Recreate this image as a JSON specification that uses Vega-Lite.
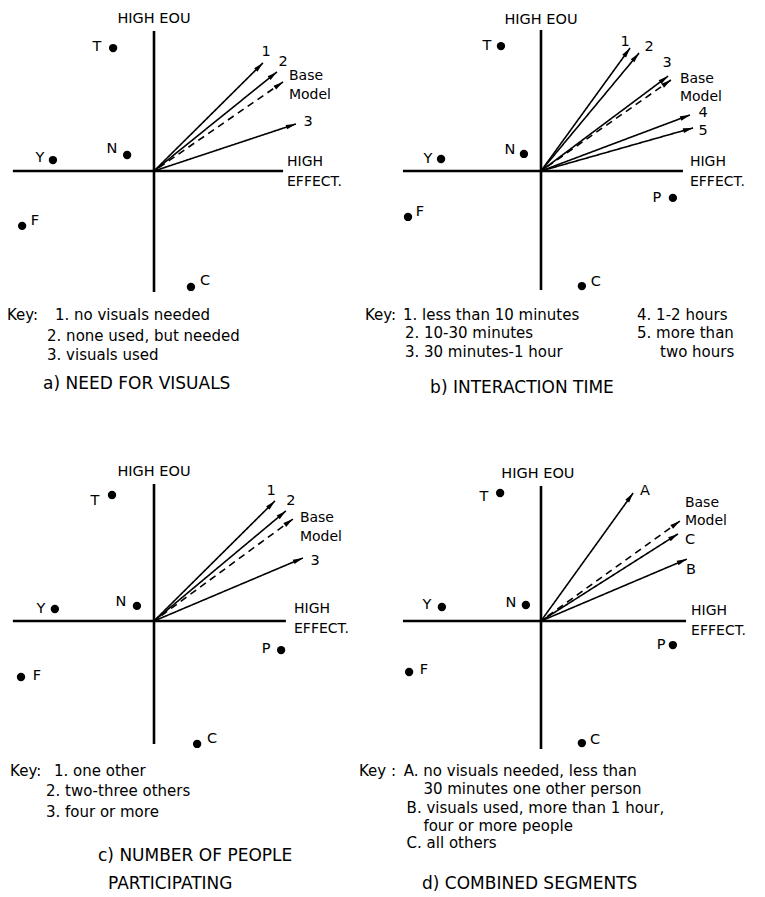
{
  "$schema": "https://vega.github.io/schema/vega-lite/v6.json",
  "background": "white",
  "padding": 0,
  "spacing": 3,
  "datasets": {
    "map": [
      {"panel": "a", "kind": "axis", "x": -5.04, "y": 0, "x2": 4.61, "y2": 0},
      {"panel": "a", "kind": "axis", "x": 0, "y": 5.0, "x2": 0, "y2": -4.32},
      {"panel": "a", "kind": "dot", "label": "T", "x": -1.46, "y": 4.39},
      {"panel": "a", "kind": "dot", "label": "N", "x": -0.96, "y": 0.57},
      {"panel": "a", "kind": "dot", "label": "Y", "x": -3.61, "y": 0.39},
      {"panel": "a", "kind": "dot", "label": "F", "x": -4.71, "y": -1.96},
      {"panel": "a", "kind": "dot", "label": "C", "x": 1.32, "y": -4.14},
      {"panel": "a", "kind": "arrow", "label": "1", "x": 3.89, "y": 3.86},
      {"panel": "a", "kind": "arrow", "label": "2", "x": 4.39, "y": 3.54},
      {"panel": "a", "kind": "arrow", "label": "Base Model", "x": 4.61, "y": 3.18},
      {"panel": "a", "kind": "arrow", "label": "3", "x": 5.07, "y": 1.68},
      {"panel": "a", "kind": "tag", "label": "T", "x": -2.04, "y": 4.43},
      {"panel": "a", "kind": "tag", "label": "N", "x": -1.5, "y": 0.79},
      {"panel": "a", "kind": "tag", "label": "Y", "x": -4.07, "y": 0.46},
      {"panel": "a", "kind": "tag", "label": "F", "x": -4.25, "y": -1.79},
      {"panel": "a", "kind": "tag", "label": "C", "x": 1.82, "y": -3.93},
      {"panel": "a", "kind": "tag", "label": "1", "x": 4.0, "y": 4.25},
      {"panel": "a", "kind": "tag", "label": "2", "x": 4.61, "y": 3.89},
      {"panel": "a", "kind": "tag", "label": "3", "x": 5.5, "y": 1.75},
      {"panel": "a", "kind": "tag", "label": "HIGH EOU", "x": 0, "y": 5.43},
      {"panel": "a", "kind": "note", "label": "Base", "x": 4.82, "y": 3.38},
      {"panel": "a", "kind": "note", "label": "Model", "x": 4.82, "y": 2.7},
      {"panel": "a", "kind": "note", "label": "HIGH", "x": 4.75, "y": 0.32},
      {"panel": "a", "kind": "note", "label": "EFFECT.", "x": 4.75, "y": -0.39},
      {"panel": "a", "kind": "key", "label": "Key:", "x": -5.25, "y": -5.14},
      {"panel": "a", "kind": "key", "label": "1. no visuals needed", "x": -3.54, "y": -5.14},
      {"panel": "a", "kind": "key", "label": "2. none used, but needed", "x": -3.82, "y": -5.89},
      {"panel": "a", "kind": "key", "label": "3. visuals used", "x": -3.82, "y": -6.57},
      {"panel": "a", "kind": "caption", "label": "a) NEED FOR VISUALS", "x": -3.96, "y": -7.61},

      {"panel": "b", "kind": "axis", "x": -4.93, "y": 0, "x2": 5.07, "y2": 0},
      {"panel": "b", "kind": "axis", "x": 0, "y": 5.04, "x2": 0, "y2": -4.25},
      {"panel": "b", "kind": "dot", "label": "T", "x": -1.43, "y": 4.46},
      {"panel": "b", "kind": "dot", "label": "N", "x": -0.61, "y": 0.61},
      {"panel": "b", "kind": "dot", "label": "Y", "x": -3.57, "y": 0.43},
      {"panel": "b", "kind": "dot", "label": "F", "x": -4.75, "y": -1.64},
      {"panel": "b", "kind": "dot", "label": "P", "x": 4.71, "y": -0.96},
      {"panel": "b", "kind": "dot", "label": "C", "x": 1.46, "y": -4.11},
      {"panel": "b", "kind": "arrow", "label": "1", "x": 3.18, "y": 4.39},
      {"panel": "b", "kind": "arrow", "label": "2", "x": 3.5, "y": 4.21},
      {"panel": "b", "kind": "arrow", "label": "3", "x": 4.54, "y": 3.39},
      {"panel": "b", "kind": "arrow", "label": "Base Model", "x": 4.64, "y": 3.25},
      {"panel": "b", "kind": "arrow", "label": "4", "x": 5.32, "y": 2.0},
      {"panel": "b", "kind": "arrow", "label": "5", "x": 5.43, "y": 1.54},
      {"panel": "b", "kind": "tag", "label": "T", "x": -1.93, "y": 4.46},
      {"panel": "b", "kind": "tag", "label": "N", "x": -1.11, "y": 0.75},
      {"panel": "b", "kind": "tag", "label": "Y", "x": -4.04, "y": 0.43},
      {"panel": "b", "kind": "tag", "label": "F", "x": -4.32, "y": -1.46},
      {"panel": "b", "kind": "tag", "label": "P", "x": 4.14, "y": -0.96},
      {"panel": "b", "kind": "tag", "label": "C", "x": 1.96, "y": -3.96},
      {"panel": "b", "kind": "tag", "label": "1", "x": 3.0, "y": 4.61},
      {"panel": "b", "kind": "tag", "label": "2", "x": 3.86, "y": 4.43},
      {"panel": "b", "kind": "tag", "label": "3", "x": 4.5, "y": 3.86},
      {"panel": "b", "kind": "tag", "label": "4", "x": 5.79, "y": 2.07},
      {"panel": "b", "kind": "tag", "label": "5", "x": 5.79, "y": 1.43},
      {"panel": "b", "kind": "tag", "label": "HIGH EOU", "x": 0, "y": 5.39},
      {"panel": "b", "kind": "note", "label": "Base", "x": 4.96, "y": 3.29},
      {"panel": "b", "kind": "note", "label": "Model", "x": 4.96, "y": 2.65},
      {"panel": "b", "kind": "note", "label": "HIGH", "x": 5.32, "y": 0.32},
      {"panel": "b", "kind": "note", "label": "EFFECT.", "x": 5.32, "y": -0.39},
      {"panel": "b", "kind": "key", "label": "Key:", "x": -6.29, "y": -5.14},
      {"panel": "b", "kind": "key", "label": "1. less than 10 minutes", "x": -4.93, "y": -5.14},
      {"panel": "b", "kind": "key", "label": "2. 10-30 minutes", "x": -4.86, "y": -5.79},
      {"panel": "b", "kind": "key", "label": "3. 30 minutes-1 hour", "x": -4.86, "y": -6.46},
      {"panel": "b", "kind": "key", "label": "4. 1-2 hours", "x": 3.43, "y": -5.14},
      {"panel": "b", "kind": "key", "label": "5. more than", "x": 3.43, "y": -5.79},
      {"panel": "b", "kind": "key", "label": "two hours", "x": 4.25, "y": -6.46},
      {"panel": "b", "kind": "caption", "label": "b) INTERACTION TIME", "x": -3.96, "y": -7.75},

      {"panel": "c", "kind": "axis", "x": -5.04, "y": 0, "x2": 4.71, "y2": 0},
      {"panel": "c", "kind": "axis", "x": 0, "y": 4.89, "x2": 0, "y2": -4.39},
      {"panel": "c", "kind": "dot", "label": "T", "x": -1.5, "y": 4.5},
      {"panel": "c", "kind": "dot", "label": "N", "x": -0.61, "y": 0.54},
      {"panel": "c", "kind": "dot", "label": "Y", "x": -3.54, "y": 0.43},
      {"panel": "c", "kind": "dot", "label": "F", "x": -4.75, "y": -2.0},
      {"panel": "c", "kind": "dot", "label": "P", "x": 4.54, "y": -1.04},
      {"panel": "c", "kind": "dot", "label": "C", "x": 1.54, "y": -4.39},
      {"panel": "c", "kind": "arrow", "label": "1", "x": 4.32, "y": 4.29},
      {"panel": "c", "kind": "arrow", "label": "2", "x": 4.71, "y": 3.93},
      {"panel": "c", "kind": "arrow", "label": "Base Model", "x": 4.96, "y": 3.64},
      {"panel": "c", "kind": "arrow", "label": "3", "x": 5.32, "y": 2.25},
      {"panel": "c", "kind": "tag", "label": "T", "x": -2.11, "y": 4.29},
      {"panel": "c", "kind": "tag", "label": "N", "x": -1.18, "y": 0.68},
      {"panel": "c", "kind": "tag", "label": "Y", "x": -4.04, "y": 0.43},
      {"panel": "c", "kind": "tag", "label": "F", "x": -4.18, "y": -1.96},
      {"panel": "c", "kind": "tag", "label": "P", "x": 4.0, "y": -1.0},
      {"panel": "c", "kind": "tag", "label": "C", "x": 2.07, "y": -4.21},
      {"panel": "c", "kind": "tag", "label": "1", "x": 4.18, "y": 4.64},
      {"panel": "c", "kind": "tag", "label": "2", "x": 4.89, "y": 4.29},
      {"panel": "c", "kind": "tag", "label": "3", "x": 5.75, "y": 2.14},
      {"panel": "c", "kind": "tag", "label": "HIGH EOU", "x": 0, "y": 5.32},
      {"panel": "c", "kind": "note", "label": "Base", "x": 5.21, "y": 3.68},
      {"panel": "c", "kind": "note", "label": "Model", "x": 5.21, "y": 3.0},
      {"panel": "c", "kind": "note", "label": "HIGH", "x": 5.0, "y": 0.43},
      {"panel": "c", "kind": "note", "label": "EFFECT.", "x": 5.0, "y": -0.29},
      {"panel": "c", "kind": "key", "label": "Key:", "x": -5.14, "y": -5.36},
      {"panel": "c", "kind": "key", "label": "1. one other", "x": -3.57, "y": -5.36},
      {"panel": "c", "kind": "key", "label": "2. two-three others", "x": -3.86, "y": -6.07},
      {"panel": "c", "kind": "key", "label": "3. four or more", "x": -3.86, "y": -6.82},
      {"panel": "c", "kind": "caption", "label": "c) NUMBER OF PEOPLE", "x": -2.0, "y": -8.39},
      {"panel": "c", "kind": "caption", "label": "PARTICIPATING", "x": -1.64, "y": -9.39},

      {"panel": "d", "kind": "axis", "x": -4.93, "y": 0, "x2": 5.18, "y2": 0},
      {"panel": "d", "kind": "axis", "x": 0, "y": 4.82, "x2": 0, "y2": -4.57},
      {"panel": "d", "kind": "dot", "label": "T", "x": -1.46, "y": 4.57},
      {"panel": "d", "kind": "dot", "label": "N", "x": -0.54, "y": 0.57},
      {"panel": "d", "kind": "dot", "label": "Y", "x": -3.54, "y": 0.5},
      {"panel": "d", "kind": "dot", "label": "F", "x": -4.71, "y": -1.82},
      {"panel": "d", "kind": "dot", "label": "P", "x": 4.71, "y": -0.86},
      {"panel": "d", "kind": "dot", "label": "C", "x": 1.46, "y": -4.36},
      {"panel": "d", "kind": "arrow", "label": "A", "x": 3.29, "y": 4.57},
      {"panel": "d", "kind": "arrow", "label": "Base Model", "x": 4.96, "y": 3.57},
      {"panel": "d", "kind": "arrow", "label": "C", "x": 4.89, "y": 3.11},
      {"panel": "d", "kind": "arrow", "label": "B", "x": 5.21, "y": 2.21},
      {"panel": "d", "kind": "tag", "label": "T", "x": -2.04, "y": 4.43},
      {"panel": "d", "kind": "tag", "label": "N", "x": -1.07, "y": 0.64},
      {"panel": "d", "kind": "tag", "label": "Y", "x": -4.07, "y": 0.57},
      {"panel": "d", "kind": "tag", "label": "F", "x": -4.18, "y": -1.75},
      {"panel": "d", "kind": "tag", "label": "P", "x": 4.29, "y": -0.86},
      {"panel": "d", "kind": "tag", "label": "C", "x": 1.93, "y": -4.25},
      {"panel": "d", "kind": "tag", "label": "A", "x": 3.71, "y": 4.64},
      {"panel": "d", "kind": "tag", "label": "C", "x": 5.32, "y": 2.89},
      {"panel": "d", "kind": "tag", "label": "B", "x": 5.36, "y": 1.82},
      {"panel": "d", "kind": "tag", "label": "HIGH EOU", "x": -0.11, "y": 5.25},
      {"panel": "d", "kind": "note", "label": "Base", "x": 5.14, "y": 4.21},
      {"panel": "d", "kind": "note", "label": "Model", "x": 5.14, "y": 3.57},
      {"panel": "d", "kind": "note", "label": "HIGH", "x": 5.36, "y": 0.36},
      {"panel": "d", "kind": "note", "label": "EFFECT.", "x": 5.36, "y": -0.36},
      {"panel": "d", "kind": "key", "label": "Key :", "x": -6.5, "y": -5.36},
      {"panel": "d", "kind": "key", "label": "A. no visuals needed, less than", "x": -4.9, "y": -5.36},
      {"panel": "d", "kind": "key", "label": "30 minutes one other person", "x": -4.2, "y": -6.0},
      {"panel": "d", "kind": "key", "label": "B. visuals used, more than 1 hour,", "x": -4.8, "y": -6.68},
      {"panel": "d", "kind": "key", "label": "four or more people", "x": -4.2, "y": -7.32},
      {"panel": "d", "kind": "key", "label": "C. all others", "x": -4.8, "y": -7.93},
      {"panel": "d", "kind": "caption", "label": "d) COMBINED SEGMENTS", "x": -4.25, "y": -9.39}
    ]
  },
  "data": {"name": "map"},
  "vconcat": [
    {
      "hconcat": [
        {
          "width": 378, "height": 447,
          "transform": [{"filter": "datum.panel === 'a'"}],
          "encoding": {
            "x": {"field": "x", "type": "quantitative", "axis": null, "scale": {"domain": [-5.5, 8], "nice": false, "zero": false}},
            "y": {"field": "y", "type": "quantitative", "axis": null, "scale": {"domain": [-9.857, 6.107], "nice": false, "zero": false}}
          },
          "layer": [
            {"transform": [{"filter": "datum.kind === 'axis'"}], "mark": {"type": "rule", "strokeWidth": 2.6, "color": "black"}, "encoding": {"x2": {"field": "x2"}, "y2": {"field": "y2"}}},
            {"transform": [{"filter": "datum.kind === 'arrow'"}], "mark": {"type": "rule", "strokeWidth": 1.6, "color": "black"}, "encoding": {"x2": {"datum": 0}, "y2": {"datum": 0}, "strokeDash": {"condition": {"test": "datum.label === 'Base Model'", "value": [7, 5]}, "value": [1, 0]}}},
            {"transform": [{"filter": "datum.kind === 'arrow'"}, {"calculate": "atan2(datum.x, datum.y) * 180 / PI", "as": "angle"}], "mark": {"type": "point", "shape": "M0,0L-0.4,1.7L0.4,1.7Z", "filled": true, "size": 140, "color": "black", "opacity": 1}, "encoding": {"angle": {"field": "angle", "type": "quantitative", "scale": null}}},
            {"transform": [{"filter": "datum.kind === 'dot'"}], "mark": {"type": "circle", "size": 70, "color": "black", "opacity": 1}},
            {"transform": [{"filter": "datum.kind === 'tag'"}], "mark": {"type": "text", "align": "center", "baseline": "middle", "fontSize": 14.5, "font": "DejaVu Sans", "color": "black"}, "encoding": {"text": {"field": "label"}}},
            {"transform": [{"filter": "datum.kind === 'note'"}], "mark": {"type": "text", "align": "left", "baseline": "middle", "fontSize": 14, "font": "DejaVu Sans", "color": "black"}, "encoding": {"text": {"field": "label"}}},
            {"transform": [{"filter": "datum.kind === 'key'"}], "mark": {"type": "text", "align": "left", "baseline": "middle", "fontSize": 15, "font": "DejaVu Sans", "color": "black"}, "encoding": {"text": {"field": "label"}}},
            {"transform": [{"filter": "datum.kind === 'caption'"}], "mark": {"type": "text", "align": "left", "baseline": "middle", "fontSize": 17, "font": "DejaVu Sans", "color": "black"}, "encoding": {"text": {"field": "label"}}}
          ]
        },
        {
          "width": 378, "height": 447,
          "transform": [{"filter": "datum.panel === 'b'"}],
          "encoding": {
            "x": {"field": "x", "type": "quantitative", "axis": null, "scale": {"domain": [-5.5, 8], "nice": false, "zero": false}},
            "y": {"field": "y", "type": "quantitative", "axis": null, "scale": {"domain": [-9.857, 6.107], "nice": false, "zero": false}}
          },
          "layer": [
            {"transform": [{"filter": "datum.kind === 'axis'"}], "mark": {"type": "rule", "strokeWidth": 2.6, "color": "black"}, "encoding": {"x2": {"field": "x2"}, "y2": {"field": "y2"}}},
            {"transform": [{"filter": "datum.kind === 'arrow'"}], "mark": {"type": "rule", "strokeWidth": 1.6, "color": "black"}, "encoding": {"x2": {"datum": 0}, "y2": {"datum": 0}, "strokeDash": {"condition": {"test": "datum.label === 'Base Model'", "value": [7, 5]}, "value": [1, 0]}}},
            {"transform": [{"filter": "datum.kind === 'arrow'"}, {"calculate": "atan2(datum.x, datum.y) * 180 / PI", "as": "angle"}], "mark": {"type": "point", "shape": "M0,0L-0.4,1.7L0.4,1.7Z", "filled": true, "size": 140, "color": "black", "opacity": 1}, "encoding": {"angle": {"field": "angle", "type": "quantitative", "scale": null}}},
            {"transform": [{"filter": "datum.kind === 'dot'"}], "mark": {"type": "circle", "size": 70, "color": "black", "opacity": 1}},
            {"transform": [{"filter": "datum.kind === 'tag'"}], "mark": {"type": "text", "align": "center", "baseline": "middle", "fontSize": 14.5, "font": "DejaVu Sans", "color": "black"}, "encoding": {"text": {"field": "label"}}},
            {"transform": [{"filter": "datum.kind === 'note'"}], "mark": {"type": "text", "align": "left", "baseline": "middle", "fontSize": 14, "font": "DejaVu Sans", "color": "black"}, "encoding": {"text": {"field": "label"}}},
            {"transform": [{"filter": "datum.kind === 'key'"}], "mark": {"type": "text", "align": "left", "baseline": "middle", "fontSize": 15, "font": "DejaVu Sans", "color": "black"}, "encoding": {"text": {"field": "label"}}},
            {"transform": [{"filter": "datum.kind === 'caption'"}], "mark": {"type": "text", "align": "left", "baseline": "middle", "fontSize": 17, "font": "DejaVu Sans", "color": "black"}, "encoding": {"text": {"field": "label"}}}
          ]
        }
      ],
      "spacing": 9,
      "bounds": "flush"
    },
    {
      "hconcat": [
        {
          "width": 378, "height": 447,
          "transform": [{"filter": "datum.panel === 'c'"}],
          "encoding": {
            "x": {"field": "x", "type": "quantitative", "axis": null, "scale": {"domain": [-5.5, 8], "nice": false, "zero": false}},
            "y": {"field": "y", "type": "quantitative", "axis": null, "scale": {"domain": [-9.857, 6.107], "nice": false, "zero": false}}
          },
          "layer": [
            {"transform": [{"filter": "datum.kind === 'axis'"}], "mark": {"type": "rule", "strokeWidth": 2.6, "color": "black"}, "encoding": {"x2": {"field": "x2"}, "y2": {"field": "y2"}}},
            {"transform": [{"filter": "datum.kind === 'arrow'"}], "mark": {"type": "rule", "strokeWidth": 1.6, "color": "black"}, "encoding": {"x2": {"datum": 0}, "y2": {"datum": 0}, "strokeDash": {"condition": {"test": "datum.label === 'Base Model'", "value": [7, 5]}, "value": [1, 0]}}},
            {"transform": [{"filter": "datum.kind === 'arrow'"}, {"calculate": "atan2(datum.x, datum.y) * 180 / PI", "as": "angle"}], "mark": {"type": "point", "shape": "M0,0L-0.4,1.7L0.4,1.7Z", "filled": true, "size": 140, "color": "black", "opacity": 1}, "encoding": {"angle": {"field": "angle", "type": "quantitative", "scale": null}}},
            {"transform": [{"filter": "datum.kind === 'dot'"}], "mark": {"type": "circle", "size": 70, "color": "black", "opacity": 1}},
            {"transform": [{"filter": "datum.kind === 'tag'"}], "mark": {"type": "text", "align": "center", "baseline": "middle", "fontSize": 14.5, "font": "DejaVu Sans", "color": "black"}, "encoding": {"text": {"field": "label"}}},
            {"transform": [{"filter": "datum.kind === 'note'"}], "mark": {"type": "text", "align": "left", "baseline": "middle", "fontSize": 14, "font": "DejaVu Sans", "color": "black"}, "encoding": {"text": {"field": "label"}}},
            {"transform": [{"filter": "datum.kind === 'key'"}], "mark": {"type": "text", "align": "left", "baseline": "middle", "fontSize": 15, "font": "DejaVu Sans", "color": "black"}, "encoding": {"text": {"field": "label"}}},
            {"transform": [{"filter": "datum.kind === 'caption'"}], "mark": {"type": "text", "align": "left", "baseline": "middle", "fontSize": 17, "font": "DejaVu Sans", "color": "black"}, "encoding": {"text": {"field": "label"}}}
          ]
        },
        {
          "width": 378, "height": 447,
          "transform": [{"filter": "datum.panel === 'd'"}],
          "encoding": {
            "x": {"field": "x", "type": "quantitative", "axis": null, "scale": {"domain": [-5.5, 8], "nice": false, "zero": false}},
            "y": {"field": "y", "type": "quantitative", "axis": null, "scale": {"domain": [-9.857, 6.107], "nice": false, "zero": false}}
          },
          "layer": [
            {"transform": [{"filter": "datum.kind === 'axis'"}], "mark": {"type": "rule", "strokeWidth": 2.6, "color": "black"}, "encoding": {"x2": {"field": "x2"}, "y2": {"field": "y2"}}},
            {"transform": [{"filter": "datum.kind === 'arrow'"}], "mark": {"type": "rule", "strokeWidth": 1.6, "color": "black"}, "encoding": {"x2": {"datum": 0}, "y2": {"datum": 0}, "strokeDash": {"condition": {"test": "datum.label === 'Base Model'", "value": [7, 5]}, "value": [1, 0]}}},
            {"transform": [{"filter": "datum.kind === 'arrow'"}, {"calculate": "atan2(datum.x, datum.y) * 180 / PI", "as": "angle"}], "mark": {"type": "point", "shape": "M0,0L-0.4,1.7L0.4,1.7Z", "filled": true, "size": 140, "color": "black", "opacity": 1}, "encoding": {"angle": {"field": "angle", "type": "quantitative", "scale": null}}},
            {"transform": [{"filter": "datum.kind === 'dot'"}], "mark": {"type": "circle", "size": 70, "color": "black", "opacity": 1}},
            {"transform": [{"filter": "datum.kind === 'tag'"}], "mark": {"type": "text", "align": "center", "baseline": "middle", "fontSize": 14.5, "font": "DejaVu Sans", "color": "black"}, "encoding": {"text": {"field": "label"}}},
            {"transform": [{"filter": "datum.kind === 'note'"}], "mark": {"type": "text", "align": "left", "baseline": "middle", "fontSize": 14, "font": "DejaVu Sans", "color": "black"}, "encoding": {"text": {"field": "label"}}},
            {"transform": [{"filter": "datum.kind === 'key'"}], "mark": {"type": "text", "align": "left", "baseline": "middle", "fontSize": 15, "font": "DejaVu Sans", "color": "black"}, "encoding": {"text": {"field": "label"}}},
            {"transform": [{"filter": "datum.kind === 'caption'"}], "mark": {"type": "text", "align": "left", "baseline": "middle", "fontSize": 17, "font": "DejaVu Sans", "color": "black"}, "encoding": {"text": {"field": "label"}}}
          ]
        }
      ],
      "spacing": 9,
      "bounds": "flush"
    }
  ],
  "config": {"view": {"stroke": null}}
}
